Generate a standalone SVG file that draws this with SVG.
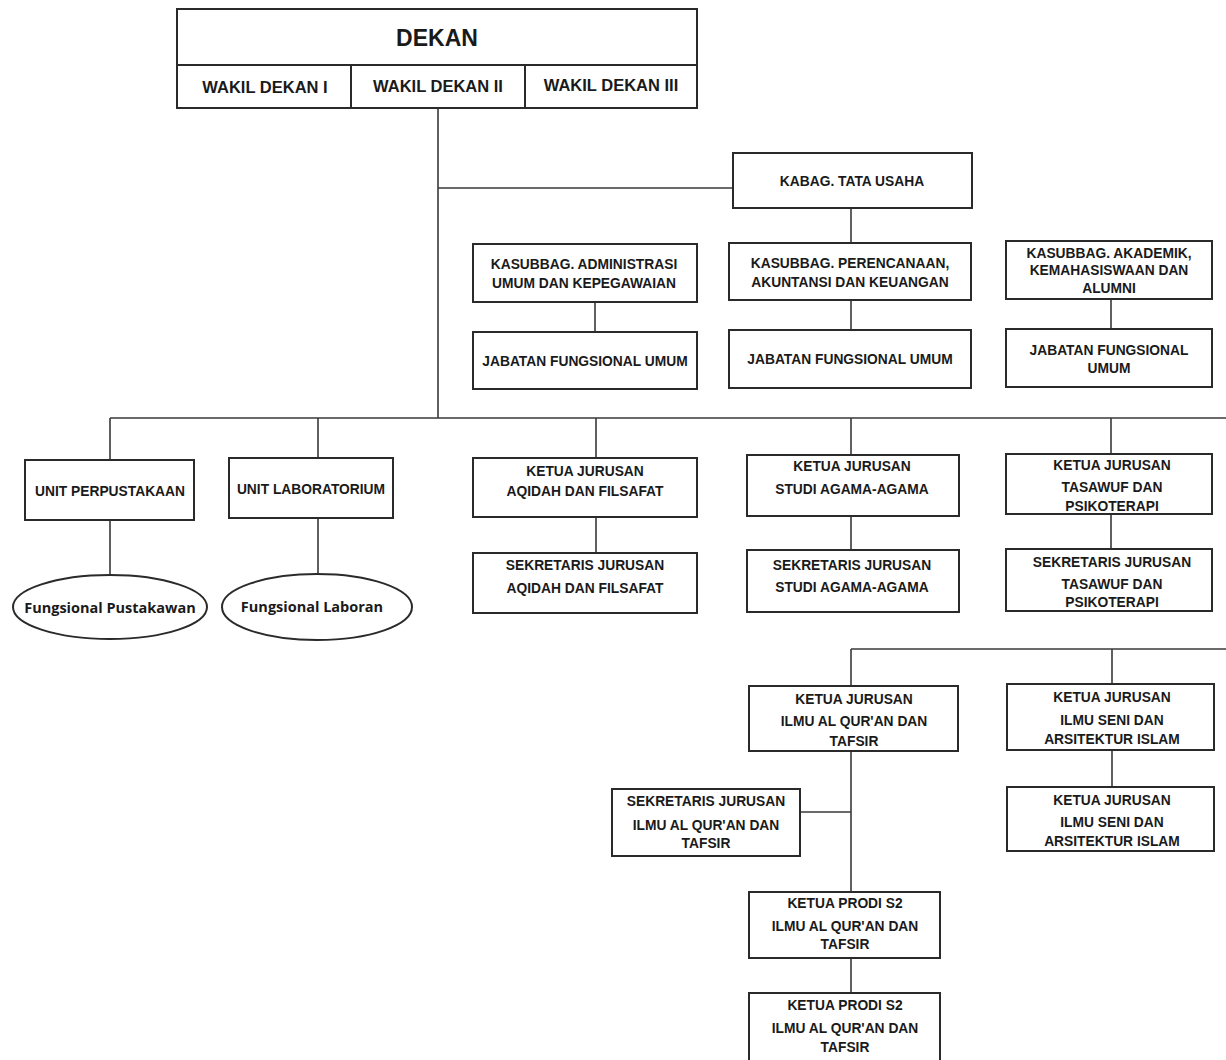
<svg xmlns="http://www.w3.org/2000/svg" width="1226" height="1060" viewBox="0 0 1226 1060">
<style>
.b{fill:#fff;stroke:#2a2a2a;stroke-width:2}
.t{font-family:"Liberation Sans",Arial,sans-serif;font-weight:bold;font-size:13.8px;fill:#1a1a1a;text-anchor:middle;dominant-baseline:central}
.w{font-size:16.5px}
.d{font-size:23px}
.e{font-family:"Open Sans","Noto Sans",sans-serif;font-size:14.5px}
.c{fill:none;stroke:#3a3a3a;stroke-width:1.6}
</style>
<rect width="1226" height="1060" fill="#fff"/>
<g id="connectors">
<path class="c" d="M438 108V418M438 188H733M851 208V243M595 302V332M851 300V330M1111 299V329"/>
<path class="c" d="M110 418H1226M110 418V460M318 418V458M596 418V458M851 418V455M1111 418V454"/>
<path class="c" d="M110 520V575M318 518V574M596 517V553M851 516V550M1111 514V549"/>
<path class="c" d="M851 649H1226M851 649V686M1112 649V684M1112 750V787M851 751V892M800 812H851M851 958V993"/>
</g>
<g id="dekan">
<rect class="b" x="177" y="9" width="520" height="56"/>
<text class="t d" x="437" y="38">DEKAN</text>
</g>
<g id="wakil1"><rect class="b" x="177" y="65" width="174" height="43"/><text class="t w" x="265" y="87">WAKIL DEKAN I</text></g>
<g id="wakil2"><rect class="b" x="351" y="65" width="174" height="43"/><text class="t w" x="438" y="86">WAKIL DEKAN II</text></g>
<g id="wakil3"><rect class="b" x="525" y="65" width="172" height="43"/><text class="t w" x="611" y="85">WAKIL DEKAN III</text></g>
<g id="kabag"><rect class="b" x="733" y="153" width="239" height="55"/><text class="t" x="852" y="181">KABAG. TATA USAHA</text></g>
<g id="kasubbag1"><rect class="b" x="473" y="244" width="224" height="58"/><text class="t" x="584" y="264">KASUBBAG. ADMINISTRASI</text><text class="t" x="584" y="283">UMUM DAN KEPEGAWAIAN</text></g>
<g id="kasubbag2"><rect class="b" x="729" y="243" width="242" height="57"/><text class="t" x="850" y="263">KASUBBAG. PERENCANAAN,</text><text class="t" x="850" y="282">AKUNTANSI DAN KEUANGAN</text></g>
<g id="kasubbag3"><rect class="b" x="1006" y="241" width="206" height="58"/><text class="t" x="1109" y="253">KASUBBAG. AKADEMIK,</text><text class="t" x="1109" y="270">KEMAHASISWAAN DAN</text><text class="t" x="1109" y="288">ALUMNI</text></g>
<g id="jfu1"><rect class="b" x="473" y="332" width="224" height="57"/><text class="t" x="585" y="361">JABATAN FUNGSIONAL UMUM</text></g>
<g id="jfu2"><rect class="b" x="729" y="330" width="242" height="58"/><text class="t" x="850" y="359">JABATAN FUNGSIONAL UMUM</text></g>
<g id="jfu3"><rect class="b" x="1006" y="329" width="206" height="58"/><text class="t" x="1109" y="350">JABATAN FUNGSIONAL</text><text class="t" x="1109" y="368">UMUM</text></g>
<g id="perpus"><rect class="b" x="25" y="460" width="169" height="60"/><text class="t" x="110" y="491">UNIT PERPUSTAKAAN</text></g>
<g id="lab"><rect class="b" x="229" y="458" width="164" height="60"/><text class="t" x="311" y="489">UNIT LABORATORIUM</text></g>
<g id="pustakawan"><ellipse class="b" cx="110" cy="607" rx="97" ry="32"/><text class="t e" x="110" y="607">Fungsional Pustakawan</text></g>
<g id="laboran"><ellipse class="b" cx="317" cy="607" rx="95" ry="33"/><text class="t e" x="312" y="606">Fungsional Laboran</text></g>
<g id="ketua-aqidah"><rect class="b" x="473" y="458" width="224" height="59"/><text class="t" x="585" y="471">KETUA JURUSAN</text><text class="t" x="585" y="491">AQIDAH DAN FILSAFAT</text></g>
<g id="sek-aqidah"><rect class="b" x="473" y="553" width="224" height="60"/><text class="t" x="585" y="565">SEKRETARIS JURUSAN</text><text class="t" x="585" y="588">AQIDAH DAN FILSAFAT</text></g>
<g id="ketua-saa"><rect class="b" x="747" y="455" width="212" height="61"/><text class="t" x="852" y="466">KETUA JURUSAN</text><text class="t" x="852" y="489">STUDI AGAMA-AGAMA</text></g>
<g id="sek-saa"><rect class="b" x="747" y="550" width="212" height="62"/><text class="t" x="852" y="565">SEKRETARIS JURUSAN</text><text class="t" x="852" y="587">STUDI AGAMA-AGAMA</text></g>
<g id="ketua-tasawuf"><rect class="b" x="1006" y="454" width="206" height="60"/><text class="t" x="1112" y="465">KETUA JURUSAN</text><text class="t" x="1112" y="487">TASAWUF DAN</text><text class="t" x="1112" y="506">PSIKOTERAPI</text></g>
<g id="sek-tasawuf"><rect class="b" x="1006" y="549" width="206" height="62"/><text class="t" x="1112" y="562">SEKRETARIS JURUSAN</text><text class="t" x="1112" y="584">TASAWUF DAN</text><text class="t" x="1112" y="602">PSIKOTERAPI</text></g>
<g id="ketua-iat"><rect class="b" x="749" y="686" width="209" height="65"/><text class="t" x="854" y="699">KETUA JURUSAN</text><text class="t" x="854" y="721">ILMU AL QUR'AN DAN</text><text class="t" x="854" y="741">TAFSIR</text></g>
<g id="ketua-seni"><rect class="b" x="1007" y="684" width="207" height="66"/><text class="t" x="1112" y="697">KETUA JURUSAN</text><text class="t" x="1112" y="720">ILMU SENI DAN</text><text class="t" x="1112" y="739">ARSITEKTUR ISLAM</text></g>
<g id="ketua-seni-2"><rect class="b" x="1007" y="787" width="207" height="64"/><text class="t" x="1112" y="800">KETUA JURUSAN</text><text class="t" x="1112" y="822">ILMU SENI DAN</text><text class="t" x="1112" y="841">ARSITEKTUR ISLAM</text></g>
<g id="sek-iat"><rect class="b" x="612" y="789" width="188" height="67"/><text class="t" x="706" y="801">SEKRETARIS JURUSAN</text><text class="t" x="706" y="825">ILMU AL QUR'AN DAN</text><text class="t" x="706" y="843">TAFSIR</text></g>
<g id="prodi-s2-1"><rect class="b" x="749" y="892" width="191" height="66"/><text class="t" x="845" y="903">KETUA PRODI S2</text><text class="t" x="845" y="926">ILMU AL QUR'AN DAN</text><text class="t" x="845" y="944">TAFSIR</text></g>
<g id="prodi-s2-2"><rect class="b" x="749" y="993" width="191" height="70"/><text class="t" x="845" y="1005">KETUA PRODI S2</text><text class="t" x="845" y="1028">ILMU AL QUR'AN DAN</text><text class="t" x="845" y="1047">TAFSIR</text></g>
</svg>
